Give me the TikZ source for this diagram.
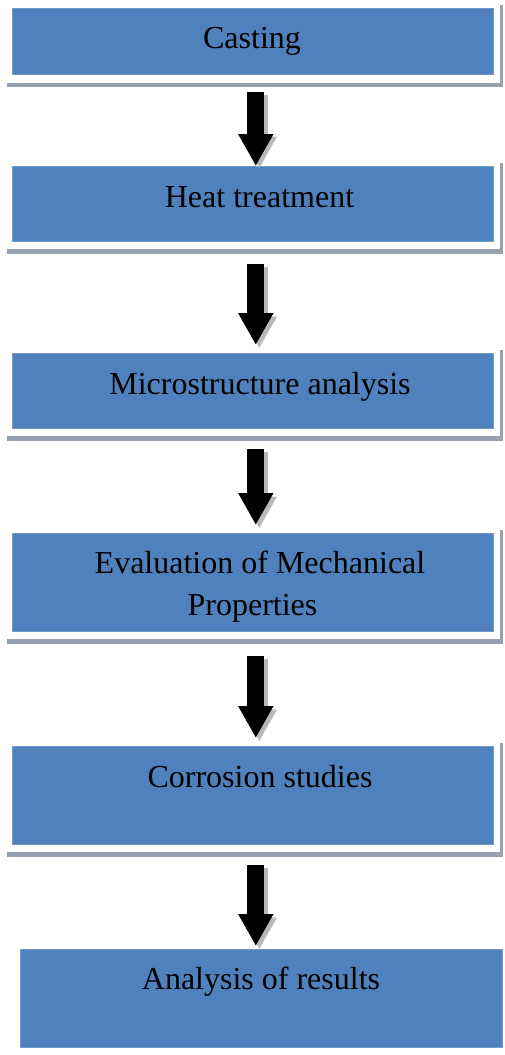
\documentclass[tikz,border=0pt]{standalone}
\usepackage{fontspec}
\setmainfont{Liberation Serif}
\usetikzlibrary{arrows.meta}
\definecolor{boxblue}{RGB}{79,129,189}
\definecolor{framegray}{RGB}{152,161,176}
\definecolor{arrowshade}{RGB}{185,185,185}
\tikzset{
  bluebox/.style={fill=boxblue, draw=boxblue!80!white, line width=0.6pt,
    inner sep=0pt, anchor=north west, minimum width=481pt},
  boxtext/.style={anchor=base, inner sep=0pt, font=\fontsize{32}{36}\selectfont},
  flow/.style={line width=17pt, -{Triangle[width=33pt,length=32pt]}},
  flowshade/.style={flow, arrowshade, transform canvas={xshift=3.5pt, yshift=-3.5pt}}
}
\begin{document}
\begin{tikzpicture}[x=1pt,y=-1pt]
\useasboundingbox (0,0) rectangle (504,1055);
% white frames with grey shadow
\fill[framegray] (7,5) rectangle (503,87);
\fill[white] (7,3) rectangle (500,83);
\fill[framegray] (7,163) rectangle (503,254);
\fill[white] (7,161) rectangle (500,249);
\fill[framegray] (7,350) rectangle (503,441);
\fill[white] (7,348) rectangle (500,436);
\fill[framegray] (7,530) rectangle (503,644);
\fill[white] (7,528) rectangle (500,639);
\fill[framegray] (7,743) rectangle (503,857);
\fill[white] (7,741) rectangle (500,852);
% boxes
\node[bluebox, minimum height=66pt] (b1) at (12,8) {};
\node[bluebox, minimum height=75pt] (b2) at (12,166) {};
\node[bluebox, minimum height=75pt] (b3) at (12,353) {};
\node[bluebox, minimum height=98pt] (b4) at (12,533) {};
\node[bluebox, minimum height=98pt] (b5) at (12,746) {};
\node[bluebox, minimum width=482pt, minimum height=98pt] (b6) at (20,949) {};
% arrows
\draw[flowshade, shorten <=17pt, shorten >=1pt] ([xshift=3pt]b1.south) -- ([xshift=3pt]b2.north);
\draw[flow, shorten <=17pt, shorten >=0pt] ([xshift=3pt]b1.south) -- ([xshift=3pt]b2.north);
\draw[flowshade, shorten <=22pt, shorten >=8pt] ([xshift=3pt]b2.south) -- ([xshift=3pt]b3.north);
\draw[flow, shorten <=22pt, shorten >=8pt] ([xshift=3pt]b2.south) -- ([xshift=3pt]b3.north);
\draw[flowshade, shorten <=20pt, shorten >=8pt] ([xshift=3pt]b3.south) -- ([xshift=3pt]b4.north);
\draw[flow, shorten <=20pt, shorten >=8pt] ([xshift=3pt]b3.south) -- ([xshift=3pt]b4.north);
\draw[flowshade, shorten <=24pt, shorten >=8pt] ([xshift=3pt]b4.south) -- ([xshift=3pt]b5.north);
\draw[flow, shorten <=24pt, shorten >=8pt] ([xshift=3pt]b4.south) -- ([xshift=3pt]b5.north);
\draw[flowshade, shorten <=20pt, shorten >=3pt] ([xshift=3pt]b5.south) -- ([xshift=3pt]b5.south |- b6.north);
\draw[flow, shorten <=20pt, shorten >=3pt] ([xshift=3pt]b5.south) -- ([xshift=3pt]b5.south |- b6.north);
% texts
\node[boxtext] (t1) at (252,48) {Casting};
\node[boxtext] (t2) at (259.5,207) {Heat treatment};
\node[boxtext] (t3) at (260,394) {Microstructure analysis};
\node[boxtext] (t4a) at (260,573) {Evaluation of Mechanical};
\node[boxtext] (t4b) at (252.5,615) {Properties};
\node[boxtext] (t5) at (260,787) {Corrosion studies};
\node[boxtext] (t6) at (261,989) {Analysis of results};
\end{tikzpicture}
\end{document}
